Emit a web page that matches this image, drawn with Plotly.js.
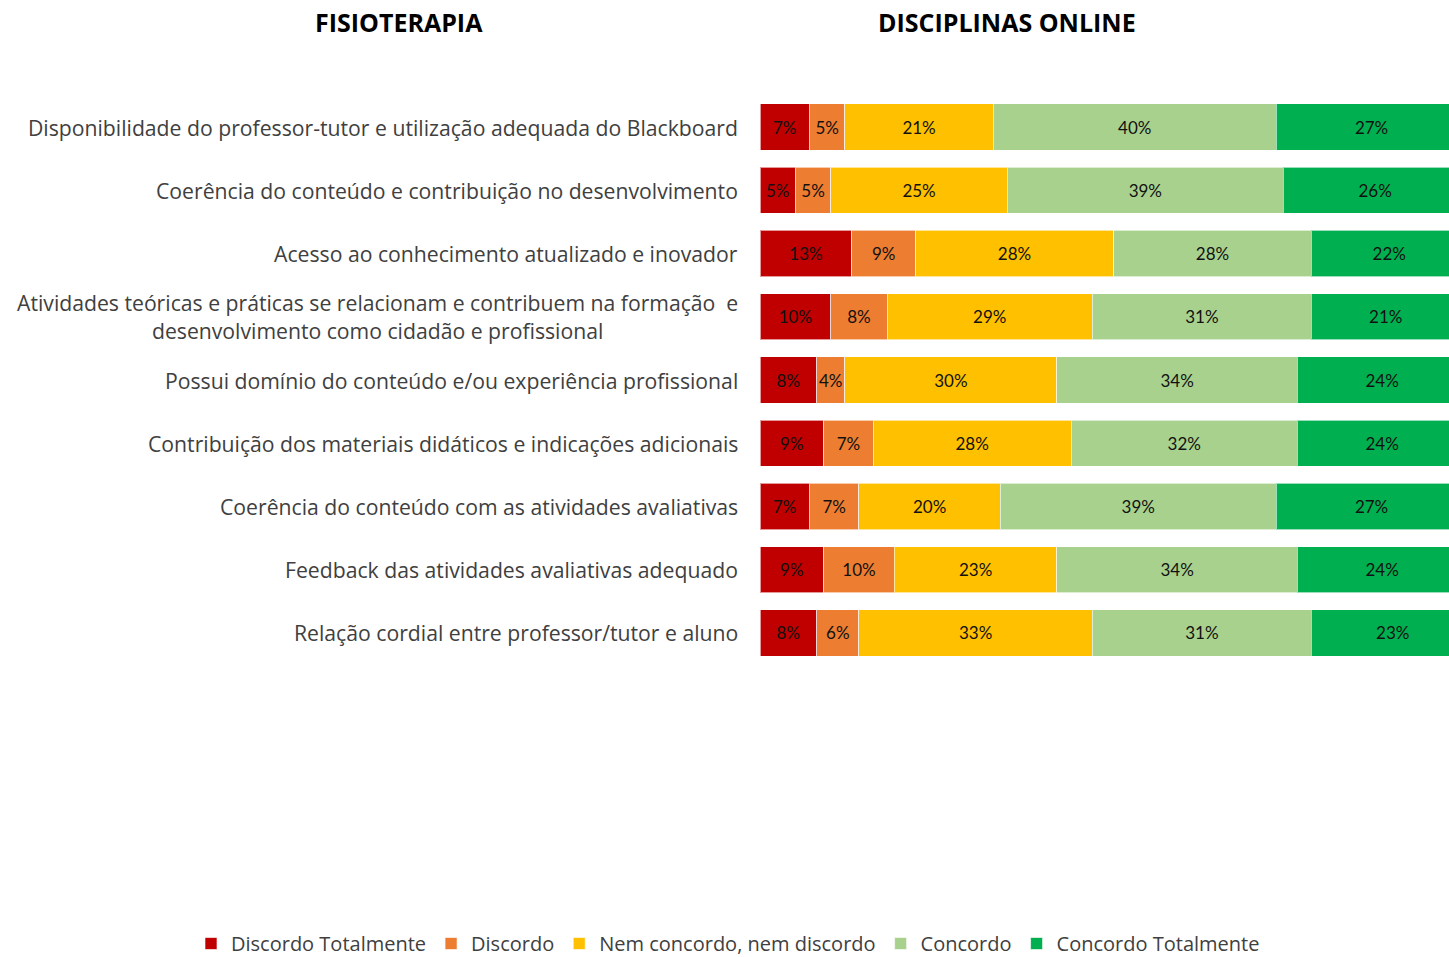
<!DOCTYPE html>
<html>
<head>
<meta charset="utf-8">
<script src="https://cdn.plot.ly/plotly-3.0.1.min.js"></script>
<style>
html, body { margin:0; padding:0; overflow:hidden; background:#fff; }
#chart { width:1470px; height:957px; }
</style>
</head>
<body>
<div id="chart"></div>
<script>
const categories = [
  "Disponibilidade do professor-tutor e utilização adequada do Blackboard",
  "Coerência do conteúdo e contribuição no desenvolvimento",
  "Acesso ao conhecimento atualizado e inovador",
  "Atividades teóricas e práticas se relacionam e contribuem na formação  e<br>desenvolvimento como cidadão e profissional",
  "Possui domínio do conteúdo e/ou experiência profissional",
  "Contribuição dos materiais didáticos e indicações adicionais",
  "Coerência do conteúdo com as atividades avaliativas",
  "Feedback das atividades avaliativas adequado",
  "Relação cordial entre professor/tutor e aluno"
];
const discordoTotalmente = [7, 5, 13, 10, 8, 9, 7, 9, 8];
const discordo           = [5, 5, 9, 8, 4, 7, 7, 10, 6];
const nemNem             = [21, 25, 28, 29, 30, 28, 20, 23, 33];
const concordo           = [40, 39, 28, 31, 34, 32, 39, 34, 31];
const concordoTotalmente = [27, 26, 22, 21, 24, 24, 27, 24, 23];
const seriesNames = ["Discordo Totalmente", "Discordo", "Nem concordo, nem discordo", "Concordo", "Concordo Totalmente"];
const seriesColors = ["#C00000", "#ED7D31", "#FFC000", "#A9D18E", "#00B050"];
const seriesValues = [discordoTotalmente, discordo, nemNem, concordo, concordoTotalmente];
const titleLeft = "FISIOTERAPIA";
const titleRight = "DISCIPLINAS ONLINE";

const FONT = "'Open Sans', Lato, sans-serif";
const BARFONT = "Lato, 'Open Sans', sans-serif";
const W = 1470, H = 957;

const traces = seriesValues.map((vals, i) => ({
  type: "bar",
  orientation: "h",
  name: seriesNames[i],
  y: categories,
  x: vals,
  text: vals.map(v => v + "%"),
  textposition: "inside",
  insidetextanchor: "middle",
  textangle: 0,
  constraintext: "none",
  textfont: { family: BARFONT, size: 17, color: "#111111" },
  marker: { color: seriesColors[i], line: { color: "rgba(255,255,255,0.6)", width: 1 } },
  hoverinfo: "skip"
}));

const annotations = categories.map(c => ({
  xref: "paper", yref: "y",
  x: 740 / W, y: c,
  xanchor: "right", yanchor: "middle",
  align: "center",
  text: c,
  showarrow: false,
  font: { family: FONT, size: 21.2, color: "#404040" }
}));
annotations.push({
  xref: "paper", yref: "paper", x: 399 / W, y: 1 - 22 / H,
  xanchor: "center", yanchor: "middle", showarrow: false,
  text: "<b>" + titleLeft + "</b>",
  font: { family: FONT, size: 25, color: "#000" }
});
annotations.push({
  xref: "paper", yref: "paper", x: 1007 / W, y: 1 - 22 / H,
  xanchor: "center", yanchor: "middle", showarrow: false,
  text: "<b>" + titleRight + "</b>",
  font: { family: FONT, size: 25, color: "#000" }
});

const layout = {
  width: W, height: H,
  margin: { l: 0, r: 0, t: 0, b: 0, autoexpand: false },
  paper_bgcolor: "#fff", plot_bgcolor: "#fff",
  barmode: "stack",
  bargap: 0.27,
  showlegend: true,
  legend: {
    orientation: "h",
    x: 728 / W, xanchor: "center",
    y: -6 / H, yanchor: "bottom",
    font: { family: FONT, size: 20, color: "#404040" },
    traceorder: "normal",
    itemwidth: 30
  },
  xaxis: {
    domain: [760 / W, 1467 / W],
    range: [0, 100],
    showgrid: false, zeroline: false, showticklabels: false, showline: false, ticks: ""
  },
  yaxis: {
    domain: [1 - 664.6 / H, 1 - 95.4 / H],
    autorange: "reversed",
    showgrid: false, zeroline: false, showticklabels: false, showline: false, ticks: ""
  },
  annotations: annotations
};

Plotly.newPlot("chart", traces, layout, { displayModeBar: false, staticPlot: true });
</script>
</body>
</html>
